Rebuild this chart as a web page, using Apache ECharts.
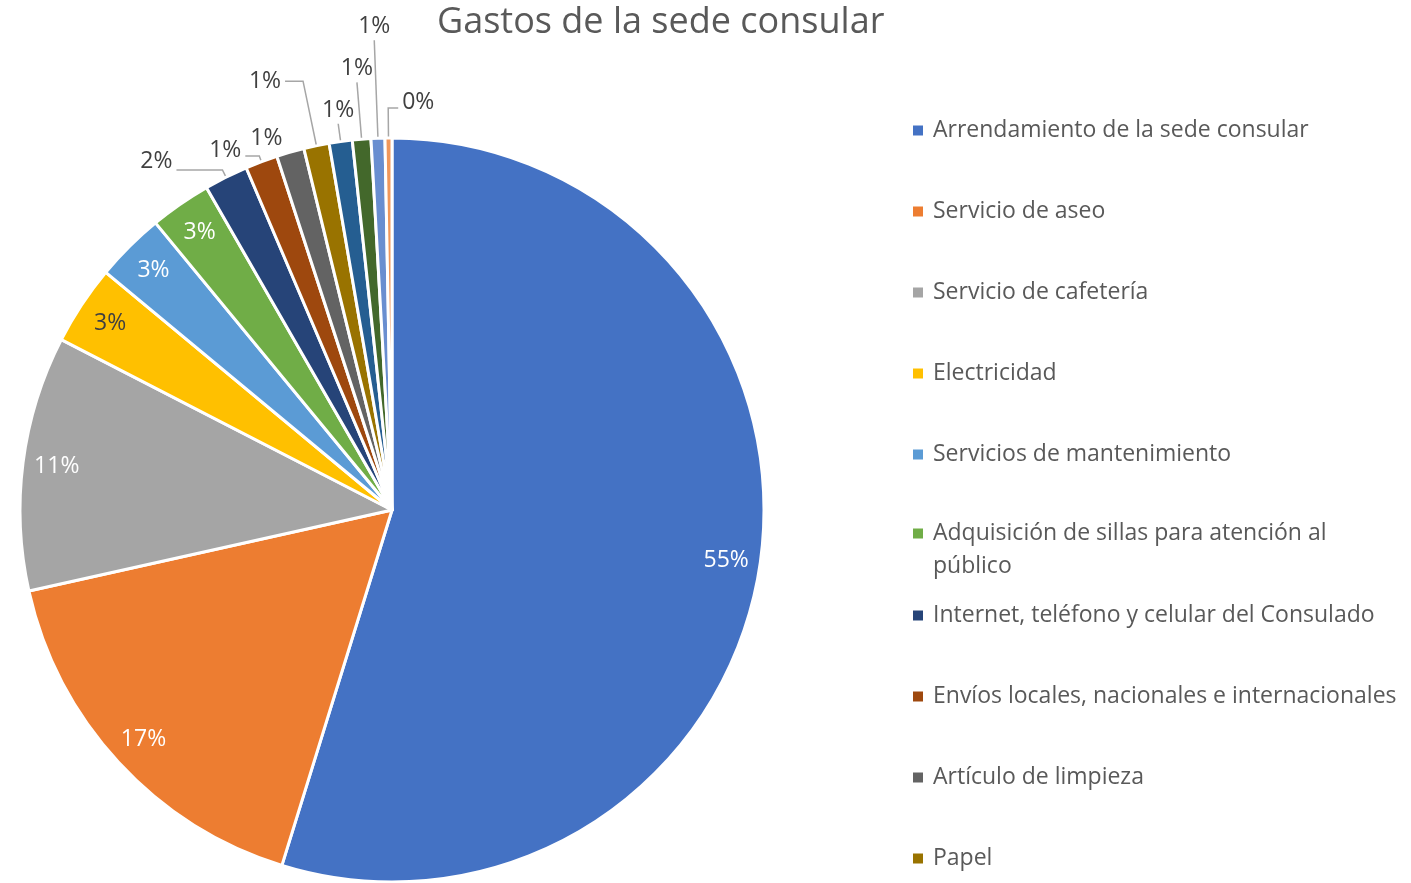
<!DOCTYPE html>
<html>
<head>
<meta charset="utf-8">
<script src="https://cdn.jsdelivr.net/npm/echarts@6/dist/echarts.min.js"></script>
<style>
  html, body { margin: 0; padding: 0; background: #fff; }
  #main { width: 1411px; height: 883px; }
</style>
</head>
<body>
<div id="main"></div>
<script>
// categories (last four are not visible in the cut-off legend)
var categories = [
  'Arrendamiento de la sede consular',
  'Servicio de aseo',
  'Servicio de cafetería',
  'Electricidad',
  'Servicios de mantenimiento',
  'Adquisición de sillas para atención al público',
  'Internet, teléfono y celular del Consulado',
  'Envíos locales, nacionales e internacionales',
  'Artículo de limpieza',
  'Papel',
  'Agua',
  'Útiles de oficina',
  'Gas',
  'Otros gastos'
];
// share of each expense, in percent
var values = [54.7, 16.7, 11.05, 3.45, 3.0, 2.65, 1.9, 1.4, 1.2, 1.1, 1.0, 0.8, 0.6, 0.3];
var colors = ['#4472C4', '#ED7D31', '#A5A5A5', '#FFC000', '#5B9BD5', '#70AD47', '#264478',
              '#9E480E', '#636363', '#997300', '#255E91', '#43682B', '#698ED0', '#F1975A'];

var FONT = 'Open Sans';
var myChart = echarts.init(document.getElementById('main'));

var pctLabel = function (p) { return Math.round(p.percent) + '%'; };

// leader line style for the small outside labels, by slice index:
// radial = length going out of the slice, side = horizontal bend, at = where the text sits
var leaders = {
  6:  { radial: 8,  side: -46, at: 'left', dy: -8 },
  7:  { radial: 6,  side: -14, at: 'left', dy: -6 },
  8:  { radial: 14, side: 0,   at: 'left', noLine: true },
  9:  { radial: 66, side: -18, at: 'left' },
  10: { radial: 18, side: 0,   at: 'top' },
  11: { radial: 57, side: 0,   at: 'top' },
  12: { radial: 98, side: 0,   at: 'top' },
  13: { radial: 30, side: 10,  at: 'right', dy: -6 }
};

var sliceData = categories.map(function (c, i) {
  return { name: c, value: values[i], itemStyle: { color: colors[i] } };
});
var labelData = categories.map(function (c, i) {
  var item = { name: c, value: values[i] };
  if (leaders[i]) {
    item.label = { position: 'outside', color: '#404040' };
  } else if (i == 3) {
    item.label = { color: '#404040' };
  }
  return item;
});

function placeLabel(params) {
  var cfg = leaders[params.dataIndex];
  var pts = params.labelLinePoints;
  if (!cfg || !pts) return {};
  var p0 = pts[0];
  var vx = pts[1][0] - p0[0], vy = pts[1][1] - p0[1];
  var len = Math.sqrt(vx * vx + vy * vy) || 1;
  var p1 = [p0[0] + vx / len * cfg.radial, p0[1] + vy / len * cfg.radial];
  var p2 = [p1[0] + cfg.side, p1[1]];
  var line = cfg.noLine ? [p0, p0, p0] : [p0, p1, p2];
  var dy = cfg.dy || 0;
  if (cfg.at == 'top') {
    return { x: p2[0], y: p2[1] - 2 + dy, align: 'center', verticalAlign: 'bottom', labelLinePoints: line };
  }
  if (cfg.at == 'right') {
    return { x: p2[0] + 4, y: p2[1] + dy, align: 'left', verticalAlign: 'middle', labelLinePoints: line };
  }
  return { x: p2[0] - 4, y: p2[1] + dy, align: 'right', verticalAlign: 'middle', labelLinePoints: line };
}

var legendText = { fontFamily: FONT, fontSize: 23, color: '#595959', lineHeight: 33, padding: [0, 0, 0, 5] };

var option = {
  backgroundColor: '#fff',
  animation: false,
  title: {
    text: 'Gastos de la sede consular',
    left: 432,
    top: 0,
    textStyle: { fontFamily: FONT, fontSize: 36, fontWeight: 'normal', color: '#595959' }
  },
  legend: [
    {
      orient: 'vertical', left: 908, top: 109, itemGap: 48,
      icon: 'rect', itemWidth: 10, itemHeight: 10,
      itemStyle: { borderWidth: 0 },
      selectedMode: false,
      data: categories.slice(0, 5),
      textStyle: legendText
    },
    {
      orient: 'vertical', left: 908, top: 512, itemGap: 48,
      icon: 'path://M0,0L10,0L10,10L0,10Z M0,43L10,43Z', itemWidth: 10, itemHeight: 43,
      itemStyle: { borderWidth: 0 },
      selectedMode: false,
      data: categories.slice(5, 6),
      textStyle: Object.assign({}, legendText, { width: 430, overflow: 'break' })
    },
    {
      orient: 'vertical', left: 908, top: 594, itemGap: 48,
      icon: 'rect', itemWidth: 10, itemHeight: 10,
      itemStyle: { borderWidth: 0 },
      selectedMode: false,
      data: categories.slice(6, 10),
      textStyle: legendText
    }
  ],
  series: [
    {
      name: 'Gastos',
      type: 'pie',
      center: [392, 510],
      radius: [0, 372],
      startAngle: 90,
      clockwise: true,
      silent: true,
      label: { show: false },
      labelLine: { show: false },
      itemStyle: { borderColor: '#fff', borderWidth: 3 },
      data: sliceData
    },
    {
      name: 'Etiquetas',
      type: 'pie',
      center: [392, 510],
      radius: [298, 372],
      startAngle: 90,
      clockwise: true,
      silent: true,
      avoidLabelOverlap: false,
      itemStyle: { color: 'rgba(0,0,0,0)', borderWidth: 0 },
      label: {
        show: true,
        position: 'inside',
        formatter: pctLabel,
        fontFamily: FONT,
        fontSize: 23,
        color: '#fff'
      },
      labelLine: { show: true, length: 14, length2: 12, lineStyle: { color: '#a6a6a6', width: 1.5 } },
      labelLayout: placeLabel,
      data: labelData
    }
  ]
};
myChart.setOption(option);
</script>
</body>
</html>
